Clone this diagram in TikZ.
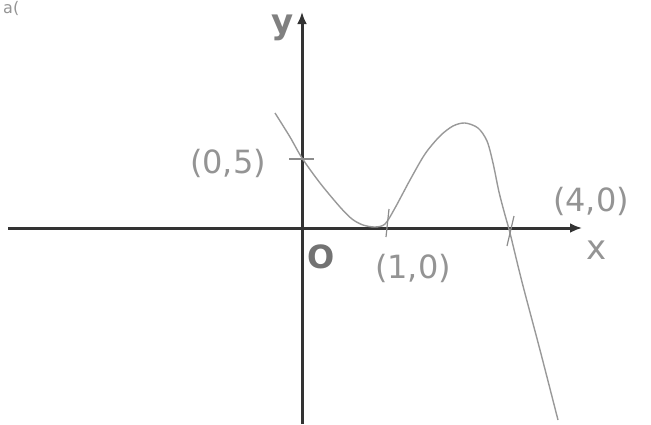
\documentclass[tikz,border=0pt]{standalone}
\usepackage{fontspec}
\setmainfont{DejaVu Sans}
\usetikzlibrary{arrows.meta}
\begin{document}
\begin{tikzpicture}[x=1pt,y=-1pt,
  axis/.style={line width=3pt,draw=black!80,-{Latex[length=12pt,width=10pt]}},
  curve/.style={line width=1.4pt,draw=black!40},
  tickmark/.style={line width=1.2pt,draw=black!45},
  lbl/.style={text=black!42,font=\fontsize{32}{32}\selectfont,inner sep=0pt}]
\useasboundingbox (0,0) rectangle (651,424);
\coordinate (xs) at (8,228);
\coordinate (xe) at (582,228);
\coordinate (ys) at (302,424);
\coordinate (ye) at (302,12);
\draw[axis] (xs) -- (xe);
\draw[axis] (ys) -- (ye);
\draw[curve] plot[smooth,tension=0.5] coordinates {(275,113) (290,137) (302,158) (320,183) (340,207) (352,219) (363,225) (375,227) (385,224) (395,208) (410,180) (425,154) (440,136) (453,126) (465,123) (478,128) (487,141) (493,163) (499,192) (505,215) (510,233) (522,282) (540,350) (558,420)};
\coordinate (t1a) at (289,159); \coordinate (t1b) at (314,159);
\coordinate (t2a) at (389,209); \coordinate (t2b) at (386,237);
\coordinate (t3a) at (514,216); \coordinate (t3b) at (507,246);
\draw[tickmark] (t1a) -- (t1b);
\draw[tickmark] (t2a) -- (t2b);
\draw[tickmark] (t3a) -- (t3b);
\node[lbl] (p05) at (228,163) {(0,5)};
\node[lbl] (p10) at (413,268) {(1,0)};
\node[lbl] (p40) at (591,201) {(4,0)};
\node[lbl,font=\fontsize{32}{32}\selectfont\bfseries,text=black!55] (o) at (321,257) {O};
\node[lbl,font=\fontsize{34}{34}\selectfont] (xl) at (597,250) {x};
\node[lbl,font=\fontsize{34}{34}\selectfont\bfseries,text=black!50] (yl) at (283,28) {y};
\node[lbl,font=\fontsize{16}{16}\selectfont,anchor=north west] (q) at (3,1) {a(};
\end{tikzpicture}
\end{document}
